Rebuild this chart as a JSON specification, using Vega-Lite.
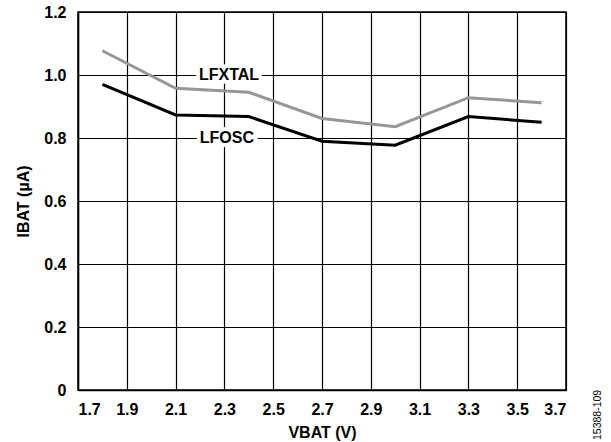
{
  "$schema": "https://vega.github.io/schema/vega-lite/v6.json",
  "width": 488,
  "height": 378,
  "autosize": "none",
  "padding": {"left": 78, "top": 12, "right": 45, "bottom": 52},
  "background": "white",
  "config": {
    "view": {"stroke": "black", "strokeWidth": 1.5},
    "font": "Liberation Sans",
    "axis": {
      "grid": true, "gridColor": "black", "gridOpacity": 1, "gridWidth": 1.2,
      "domainColor": "black", "domainWidth": 1.5,
      "ticks": false,
      "labelFont": "Liberation Sans", "labelFontWeight": "bold", "labelFontSize": 16, "labelColor": "black",
      "titleFont": "Liberation Sans", "titleFontWeight": "bold", "titleFontSize": 16, "titleColor": "black"
    }
  },
  "title": {
    "text": "15388-109", "orient": "right", "anchor": "end", "frame": "bounds", "angle": -90, "align": "left",
    "fontSize": 10.5, "fontWeight": "normal", "font": "Liberation Sans", "color": "black", "offset": 16
  },
  "data": {
    "values": [
      {"v": 1.8, "i": 1.077, "s": "LFXTAL"},
      {"v": 2.1, "i": 0.958, "s": "LFXTAL"},
      {"v": 2.4, "i": 0.945, "s": "LFXTAL"},
      {"v": 2.7, "i": 0.862, "s": "LFXTAL"},
      {"v": 3.0, "i": 0.836, "s": "LFXTAL"},
      {"v": 3.3, "i": 0.928, "s": "LFXTAL"},
      {"v": 3.6, "i": 0.912, "s": "LFXTAL"},
      {"v": 1.8, "i": 0.970, "s": "LFOSC"},
      {"v": 2.1, "i": 0.873, "s": "LFOSC"},
      {"v": 2.4, "i": 0.868, "s": "LFOSC"},
      {"v": 2.7, "i": 0.790, "s": "LFOSC"},
      {"v": 3.0, "i": 0.777, "s": "LFOSC"},
      {"v": 3.3, "i": 0.868, "s": "LFOSC"},
      {"v": 3.6, "i": 0.850, "s": "LFOSC"}
    ]
  },
  "layer": [
    {
      "mark": {"type": "line", "strokeWidth": 3},
      "encoding": {
        "x": {
          "field": "v", "type": "quantitative",
          "scale": {"domain": [1.7, 3.7], "nice": false, "zero": false},
          "axis": {"values": [1.7, 1.9, 2.1, 2.3, 2.5, 2.7, 2.9, 3.1, 3.3, 3.5, 3.7], "format": ".1f", "title": "VBAT (V)", "labelPadding": 11, "titlePadding": 7}
        },
        "y": {
          "field": "i", "type": "quantitative",
          "scale": {"domain": [0, 1.2], "nice": false},
          "axis": {"values": [0, 0.2, 0.4, 0.6, 0.8, 1.0, 1.2], "labelExpr": "datum.value == 0 ? '0' : format(datum.value, '.1f')", "title": "IBAT (µA)", "labelPadding": 12, "titlePadding": 12}
        },
        "color": {
          "field": "s", "type": "nominal",
          "scale": {"domain": ["LFXTAL", "LFOSC"], "range": ["#969696", "#000000"]},
          "legend": null
        }
      }
    },
    {
      "data": {"values": [{"v": 2.319, "i": 1.0, "t": "LFXTAL"}, {"v": 2.31, "i": 0.8, "t": "LFOSC"}]},
      "mark": {"type": "text", "font": "Liberation Sans", "fontWeight": "bold", "fontSize": 16, "stroke": "white", "strokeWidth": 8, "fill": "white", "strokeJoin": "round"},
      "encoding": {
        "x": {"field": "v", "type": "quantitative"},
        "y": {"field": "i", "type": "quantitative"},
        "text": {"field": "t"}
      }
    },
    {
      "data": {"values": [{"v": 2.319, "i": 1.0, "t": "LFXTAL"}, {"v": 2.31, "i": 0.8, "t": "LFOSC"}]},
      "mark": {"type": "text", "font": "Liberation Sans", "fontWeight": "bold", "fontSize": 16, "fill": "black"},
      "encoding": {
        "x": {"field": "v", "type": "quantitative"},
        "y": {"field": "i", "type": "quantitative"},
        "text": {"field": "t"}
      }
    }
  ]
}
